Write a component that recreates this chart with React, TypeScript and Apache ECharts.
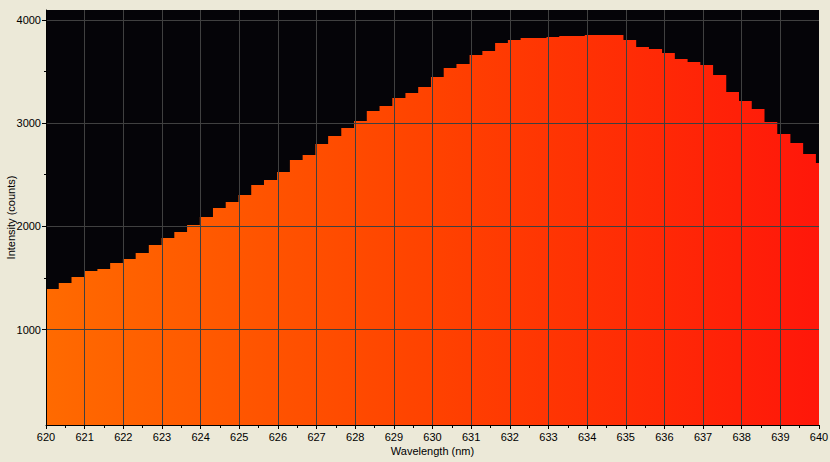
import React, { useEffect, useRef } from "react";
import * as echarts from "echarts";

// Bin start wavelengths (nm) of the spectrometer pixels
const wavelengths: number[] = [
  620.0, 620.33, 620.66, 621.0, 621.33, 621.66, 621.99, 622.32, 622.66, 622.99,
  623.32, 623.65, 623.98, 624.32, 624.65, 624.98, 625.31, 625.64, 625.98, 626.31,
  626.64, 626.97, 627.3, 627.64, 627.97, 628.3, 628.63, 628.96, 629.3, 629.63,
  629.96, 630.29, 630.62, 630.96, 631.29, 631.62, 631.95, 632.28, 632.62, 632.95,
  633.28, 633.61, 633.94, 634.28, 634.61, 634.94, 635.27, 635.6, 635.94, 636.27,
  636.6, 636.93, 637.26, 637.6, 637.93, 638.26, 638.59, 638.92, 639.26, 639.59,
  639.92,
];
const lastBinEnd = 640.25;

// Intensity (counts) per bin
const intensity: number[] = [
  1393, 1451, 1509, 1567, 1586, 1644, 1683, 1741, 1818, 1886,
  1944, 2012, 2090, 2177, 2235, 2303, 2400, 2448, 2526, 2642,
  2690, 2797, 2875, 2952, 3020, 3117, 3165, 3242, 3291, 3349,
  3446, 3533, 3572, 3659, 3698, 3775, 3804, 3824, 3824, 3833,
  3843, 3843, 3853, 3853, 3853, 3804, 3736, 3717, 3678, 3620,
  3591, 3562, 3465, 3301, 3213, 3136, 3010, 2894, 2807, 2700,
  2612,
];

const yMajorTicks: number[] = [1000, 2000, 3000, 4000];
const yMinorTicks: number[] = [1500, 2500, 3500];

const FONT = "'Liberation Sans', Arial, sans-serif";

export default function App() {
  const ref = useRef<HTMLDivElement>(null);

  useEffect(() => {
    if (!ref.current) return;
    const chart = echarts.init(ref.current, undefined, { renderer: "svg" });

    const data: number[][] = wavelengths.map((w, i) => [w, intensity[i]]);
    data.push([lastBinEnd, intensity[intensity.length - 1]]);

    chart.setOption({
      animation: false,
      backgroundColor: "#ECE9D8",
      grid: {
        left: 46,
        right: 11,
        top: 10,
        bottom: 37,
        containLabel: false,
        outerBoundsMode: "none",
        show: true,
        backgroundColor: "#050408",
        borderWidth: 0,
      },
      xAxis: {
        type: "value",
        min: 620,
        max: 640,
        interval: 1,
        z: 5,
        name: "Wavelength (nm)",
        nameLocation: "middle",
        nameGap: 20,
        nameMoveOverlap: false,
        nameTextStyle: { color: "#000", fontFamily: FONT, fontSize: 11 },
        axisLine: { show: true, lineStyle: { color: "#000", width: 1 } },
        axisTick: { show: true, length: 4, lineStyle: { color: "#000" } },
        minorTick: { show: true, splitNumber: 2, length: 3, lineStyle: { color: "#000" } },
        axisLabel: {
          color: "#000",
          fontFamily: FONT,
          fontSize: 11,
          margin: 6,
          formatter: (v: number) => String(v),
        },
        splitLine: {
          show: true,
          showMinLine: false,
          showMaxLine: false,
          lineStyle: { color: "#404040", width: 1 },
        },
      },
      yAxis: [
        {
          type: "value",
          min: 75,
          max: 4095,
          position: "left",
          z: 5,
          name: "Intensity (counts)",
          nameLocation: "middle",
          nameGap: 30,
          nameMoveOverlap: false,
          nameTextStyle: { color: "#000", fontFamily: FONT, fontSize: 11 },
          axisLine: { show: true, lineStyle: { color: "#000", width: 1 } },
          axisTick: { show: true, length: 4, customValues: yMajorTicks, lineStyle: { color: "#000" } },
          axisLabel: {
            customValues: yMajorTicks,
            color: "#000",
            fontFamily: FONT,
            fontSize: 11,
            margin: 5,
            formatter: (v: number) => String(v),
          },
          splitLine: { show: true, lineStyle: { color: "#404040", width: 1 } },
        },
        {
          type: "value",
          min: 75,
          max: 4095,
          position: "left",
          offset: 0,
          z: 5,
          axisLine: { show: false },
          axisTick: { show: true, length: 2, customValues: yMinorTicks, lineStyle: { color: "#000" } },
          axisLabel: { show: false },
          splitLine: { show: false },
        },
      ],
      series: [
        {
          type: "line",
          step: "end",
          yAxisIndex: 0,
          data,
          symbol: "none",
          lineStyle: { width: 0, opacity: 0 },
          areaStyle: {
            opacity: 1,
            origin: "start",
            color: {
              type: "linear",
              x: 46,
              y: 0,
              x2: 819,
              y2: 0,
              global: true,
              colorStops: [
                { offset: 0, color: "#FF6A00" },
                { offset: 0.5, color: "#FF4200" },
                { offset: 1, color: "#FF170A" },
              ],
            },
          },
          clip: true,
          z: 2,
        },
      ],
    });

    return () => chart.dispose();
  }, []);

  return (
    <div
      ref={ref}
      style={{
        position: "absolute",
        left: 0,
        top: 0,
        width: 830,
        height: 462,
        background: "#ECE9D8",
      }}
    />
  );
}
